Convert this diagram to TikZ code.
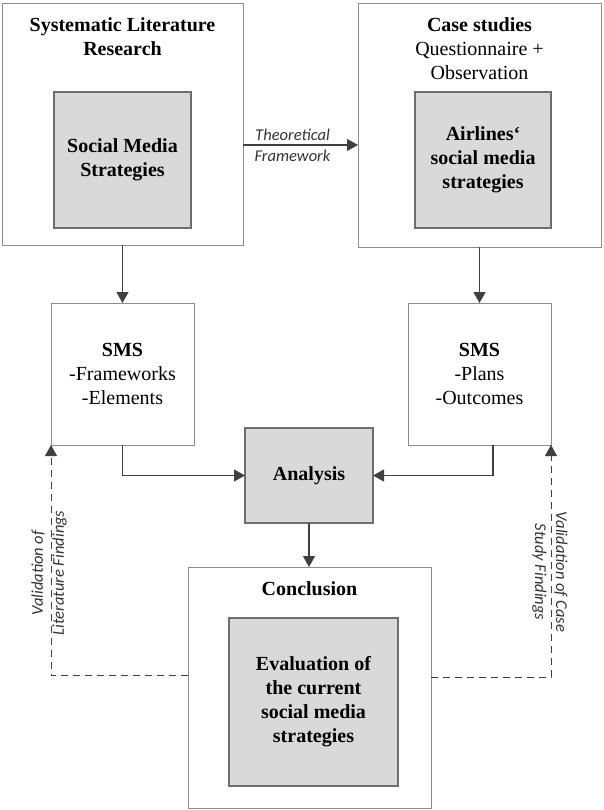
\documentclass[tikz,border=0pt]{standalone}
\usepackage{fontspec}
\setmainfont{Liberation Serif}
\newfontfamily\boxfont{Liberation Serif}
\newfontfamily\notefont{Carlito}
\usetikzlibrary{arrows.meta}

\begin{document}
\begin{tikzpicture}[x=1pt, y=-1pt,
    outerbox/.style={draw=black!45, line width=0.9pt, inner sep=0pt, outer sep=0pt},
    greybox/.style={draw=black!57, fill=black!15, line width=1.5pt, inner sep=0pt, outer sep=0pt,
        align=center, font=\boxfont\bfseries\fontsize{20}{24}\selectfont},
    smsbox/.style={outerbox, align=center, font=\boxfont\fontsize{20}{24}\selectfont},
    boxtitle/.style={align=center, inner sep=0pt, font=\boxfont\fontsize{20}{24}\selectfont},
    flow/.style={draw=black!75, line width=1.1pt, -{Triangle[width=12pt,length=11pt]}},
    check/.style={flow, line width=0.9pt, dash pattern=on 7pt off 5pt},
    note/.style={align=center, inner sep=0pt, text=black!80, font=\notefont\itshape\fontsize{16.5}{21}\selectfont}]

    \useasboundingbox (0,0) rectangle (603,810);

    % Literature research
    \node[outerbox, minimum width=241pt, minimum height=242pt] (lit) at (122.5,124) {};
    \node[boxtitle] (littitle) at (122.5,37) {\textbf{Systematic Literature}\\\textbf{Research}};
    \node[greybox, minimum width=137pt, minimum height=136pt] (litin) at (122.5,160) {Social Media\\Strategies};

    % Case studies
    \node[outerbox, minimum width=243pt, minimum height=244pt] (case) at (479.5,125) {};
    \node[boxtitle] (casetitle) at (479.5,49) {\textbf{Case studies}\\Questionnaire +\\Observation};
    \node[greybox, minimum width=136pt, minimum height=136pt] (casein) at (483,160) {Airlines‘\\social media\\strategies};

    % SMS results
    \node[smsbox, minimum width=143pt, minimum height=142pt] (smsl) at (122.5,374) {\textbf{SMS}\\-Frameworks\\-Elements};
    \node[smsbox, minimum width=143pt, minimum height=142pt] (smsr) at (479.5,374) {\textbf{SMS}\\-Plans\\-Outcomes};

    \node[greybox, minimum width=128pt, minimum height=95pt] (ana) at (309,475.5) {Analysis};

    % Conclusion
    \node[outerbox, minimum width=243pt, minimum height=241pt] (conc) at (309.5,687.5) {};
    \node[boxtitle] (conctitle) at (309.5,589) {\textbf{Conclusion}};
    \node[greybox, minimum width=169pt, minimum height=168pt] (concin) at (313.5,702) {Evaluation of\\the current\\social media\\strategies};

    % Arrows
    \coordinate (tfstart) at ([yshift=-21pt]lit.east);
    \draw[flow] (tfstart) -- (tfstart -| case.west) node[note, midway, xshift=-8pt] (tf) {Theoretical\\Framework};
    \draw[flow] (lit.south) -- (smsl.north);
    \draw[flow] (case.south) -- (smsr.north);
    \draw[flow] (smsl.south) |- (ana.west);
    \draw[flow] ([xshift=13.5pt]smsr.south) |- (ana.east);
    \draw[flow] (ana.south) -- (ana.south |- conc.north);

    % Validation
    \draw[check] ([yshift=12pt]conc.west) -| (smsl.south west);
    \draw[check] ([yshift=10.5pt]conc.east) -| (smsr.south east);
    \node[note, rotate=90] (vallit) at (49,573) {Validation of\\Literature Findings};
    \node[note, rotate=-90] (valcase) at (550,572) {Validation of Case\\Study Findings};
\end{tikzpicture}
\end{document}
